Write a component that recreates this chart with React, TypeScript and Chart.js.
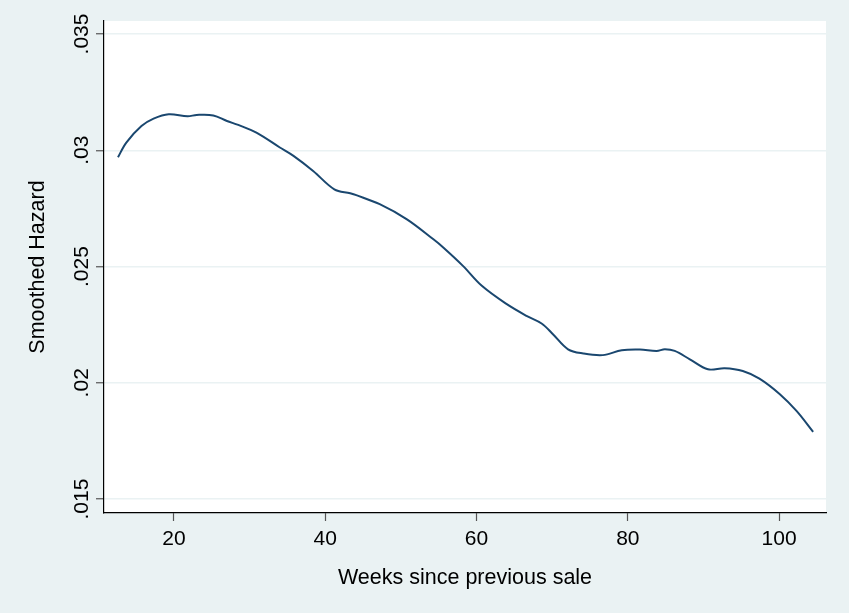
import React, { useEffect, useRef } from "react";
import { Chart, registerables } from "chart.js";

Chart.register(...registerables);

const weeks = [12.6, 13.7, 15.7, 17.3, 19.3, 21.8, 23.0, 25.2, 27.0, 28.5, 30.9, 34.0, 35.8, 38.4, 41.2, 43.3, 44.1, 47.2, 50.8, 54.3, 55.6, 58.2, 60.7, 64.0, 66.6, 68.6, 70.1, 72.1, 74.1, 76.7, 79.2, 81.6, 83.8, 84.9, 86.2, 88.2, 90.6, 92.8, 95.2, 97.4, 100.1, 102.3, 104.5];
const hazard = [0.0297, 0.03033, 0.03104, 0.03136, 0.03155, 0.03146, 0.03152, 0.0315, 0.03126, 0.03109, 0.03076, 0.03012, 0.02976, 0.02911, 0.02832, 0.02815, 0.02807, 0.02768, 0.02703, 0.02617, 0.02582, 0.02503, 0.02417, 0.02338, 0.02288, 0.02255, 0.02209, 0.02144, 0.02126, 0.02119, 0.0214, 0.02143, 0.02137, 0.02144, 0.02137, 0.02101, 0.02058, 0.02063, 0.02051, 0.02018, 0.01951, 0.01879, 0.01789];
const xTicks = [20, 40, 60, 80, 100];
const yTicks = [0.015, 0.02, 0.025, 0.03, 0.035];
const yTickLabels = [".015", ".02", ".025", ".03", ".035"];
const xTitle = "Weeks since previous sale";
const yTitle = "Smoothed Hazard";

const BG = "#EAF2F3";
const FONT = "'Liberation Sans', Arial, Helvetica, sans-serif";

export default function App() {
  const ref = useRef<HTMLCanvasElement | null>(null);
  useEffect(() => {
    const canvas = ref.current;
    if (!canvas) return;
    const bgPlugin = {
      id: "bg",
      beforeDraw(chart: any) {
        const { ctx, chartArea } = chart;
        ctx.save();
        ctx.fillStyle = BG;
        ctx.fillRect(0, 0, chart.width, chart.height);
        ctx.fillStyle = "#FFFFFF";
        ctx.fillRect(chartArea.left, chartArea.top, chartArea.right - chartArea.left, chartArea.bottom - chartArea.top);
        ctx.restore();
      },
      afterDraw(chart: any) {
        const { ctx, chartArea } = chart;
        const xs = chart.scales.x;
        const ys = chart.scales.y;
        ctx.save();
        ctx.fillStyle = "#000";
        ctx.font = `21px ${FONT}`;
        ctx.textAlign = "center";
        ctx.textBaseline = "alphabetic";
        xTicks.forEach((v) => {
          ctx.fillText(String(v), xs.getPixelForValue(v), 545);
        });
        yTicks.forEach((v, i) => {
          ctx.save();
          ctx.translate(88, ys.getPixelForValue(v));
          ctx.rotate(-Math.PI / 2);
          ctx.fillText(yTickLabels[i], 0, 0);
          ctx.restore();
        });
        ctx.font = `21.5px ${FONT}`;
        ctx.fillText(xTitle, (chartArea.left + chartArea.right) / 2, 584);
        ctx.save();
        ctx.translate(44, (chartArea.top + chartArea.bottom) / 2);
        ctx.rotate(-Math.PI / 2);
        ctx.fillText(yTitle, 0, 0);
        ctx.restore();
        ctx.restore();
      },
    };
    const chart = new Chart(canvas, {
      type: "line",
      data: {
        datasets: [
          {
            data: weeks.map((w, i) => ({ x: w, y: hazard[i] })),
            borderColor: "#1A476F",
            borderWidth: 2,
            pointRadius: 0,
            tension: 0.35,
            fill: false,
          },
        ],
      },
      options: {
        animation: false,
        responsive: false,
        maintainAspectRatio: false,
        layout: { padding: { top: 21, right: 23, left: 0, bottom: 0 } },
        plugins: { legend: { display: false }, tooltip: { enabled: false }, title: { display: false } },
        scales: {
          x: {
            type: "linear",
            min: 10.75,
            max: 106.2,
            afterBuildTicks: (s: any) => {
              s.ticks = xTicks.map((v) => ({ value: v }));
            },
            afterFit: (s: any) => {
              s.height = 100;
            },
            ticks: { display: false },
            grid: { drawOnChartArea: false, drawTicks: true, tickLength: 8, tickColor: "#555", tickWidth: 1.2 },
            border: { display: true, color: "#000", width: 1.2 },
          },
          y: {
            type: "linear",
            min: 0.0144,
            max: 0.03556,
            afterBuildTicks: (s: any) => {
              s.ticks = yTicks.map((v) => ({ value: v }));
            },
            afterFit: (s: any) => {
              s.width = 104;
            },
            ticks: { display: false },
            grid: { color: BG, lineWidth: 1.5, drawTicks: true, tickLength: 8, tickColor: "#555", tickWidth: 1.2 },
            border: { display: true, color: "#000", width: 1.2 },
          },
        },
      },
      plugins: [bgPlugin],
    } as any);
    return () => chart.destroy();
  }, []);
  return (
    <div style={{ position: "absolute", left: 0, top: 0, width: 849, height: 613, background: BG }}>
      <canvas ref={ref} width={849} height={613} style={{ display: "block", width: 849, height: 613 }} />
    </div>
  );
}
